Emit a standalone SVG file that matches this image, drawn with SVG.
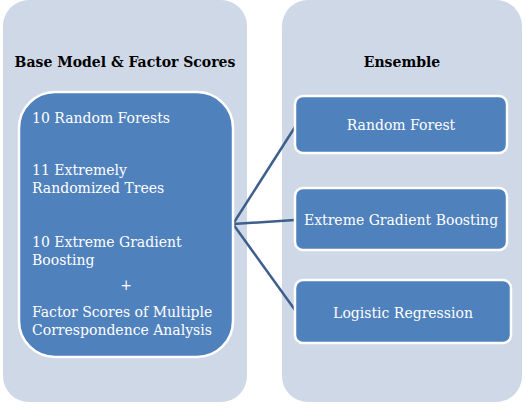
<svg xmlns="http://www.w3.org/2000/svg" width="525" height="411" viewBox="0 0 525 411">
<style>
.panel{fill:#cfd8e6;}
.box{fill:#4f81bd;stroke:#ffffff;stroke-width:2.5;}
text{font-family:'DejaVu Serif','Noto Serif','Liberation Serif',serif;font-size:14px;}
.title{font-weight:bold;fill:#000;text-anchor:middle;}
.t{fill:#ffffff;}
.tc{fill:#ffffff;text-anchor:middle;}
.conn{stroke:#3e5f8c;stroke-width:2.5;fill:none;}
</style>
<rect width="525" height="411" fill="#ffffff"/>
<g id="panel-left">
<rect class="panel" x="3" y="0" width="244" height="402" rx="26"/>
<text class="title" x="125" y="67">Base Model &amp; Factor Scores</text>
</g>
<g id="panel-right">
<rect class="panel" x="282" y="0" width="240" height="402" rx="26"/>
<text class="title" x="402" y="67">Ensemble</text>
</g>
<g id="connectors">
<line class="conn" x1="233" y1="224" x2="295" y2="127"/>
<line class="conn" x1="233" y1="224" x2="295" y2="220"/>
<line class="conn" x1="233" y1="224" x2="295" y2="310"/>
</g>
<g id="base-models">
<rect class="box" x="19" y="92" width="214" height="265" rx="36"/>
<text class="t" x="32" y="123">10 Random Forests</text>
<text class="t" x="32" y="175">11 Extremely</text>
<text class="t" x="32" y="193">Randomized Trees</text>
<text class="t" x="32" y="247">10 Extreme Gradient</text>
<text class="t" x="32" y="265">Boosting</text>
<text class="tc" x="126" y="290">+</text>
<text class="t" x="32" y="317">Factor Scores of Multiple</text>
<text class="t" x="32" y="335">Correspondence Analysis</text>
</g>
<g id="random-forest">
<rect class="box" x="295" y="96" width="212" height="57" rx="8"/>
<text class="tc" x="401" y="130">Random Forest</text>
</g>
<g id="xgb">
<rect class="box" x="295" y="188" width="212" height="62" rx="8"/>
<text class="tc" x="401" y="225">Extreme Gradient Boosting</text>
</g>
<g id="logistic">
<rect class="box" x="295" y="280" width="216" height="63" rx="8"/>
<text class="tc" x="403" y="318">Logistic Regression</text>
</g>
</svg>
